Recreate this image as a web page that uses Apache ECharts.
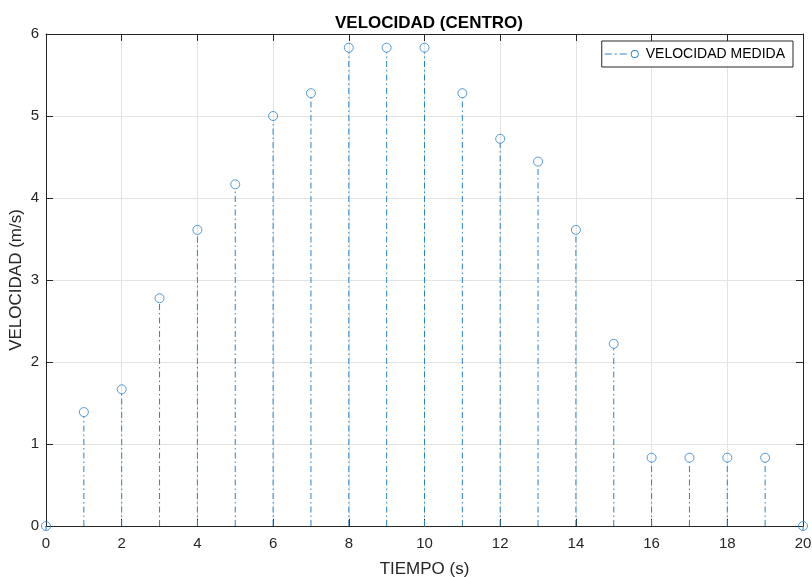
<!DOCTYPE html>
<html>
<head>
<meta charset="utf-8">
<script src="https://cdn.jsdelivr.net/npm/echarts@6/dist/echarts.min.js"></script>
<style>
  html, body { margin: 0; padding: 0; background: #fff; }
  #chart { width: 812px; height: 577px; }
</style>
</head>
<body>
<div id="chart"></div>
<script>
// Tiempo (s) y velocidad medida (m/s) en el centro
const tiempo = [0, 1, 2, 3, 4, 5, 6, 7, 8, 9, 10, 11, 12, 13, 14, 15, 16, 17, 18, 19, 20];
const velocidad = [0, 1.389, 1.667, 2.778, 3.611, 4.167, 5.0, 5.278, 5.833, 5.833, 5.833,
                   5.278, 4.722, 4.444, 3.611, 2.222, 0.833, 0.833, 0.833, 0.833, 0];
const xTicks = [0, 2, 4, 6, 8, 10, 12, 14, 16, 18, 20];
const yTicks = [0, 1, 2, 3, 4, 5, 6];

const puntos = tiempo.map((t, i) => [t, velocidad[i]]);
const azul = '#2a82c9';
const ejeColor = '#262626';
const fuente = 'Liberation Sans, Arial, sans-serif';

// Legend icon: dash-dot line followed by an open circle
const iconoLeyenda = 'path://M0,4.5h7v1h-7z M10,4.5h2v1h-2z M15,4.5h7v1h-7z ' +
  'M34,5A4,4 0 1 1 26,5A4,4 0 1 1 34,5Z M33.1,5A3.1,3.1 0 1 0 26.9,5A3.1,3.1 0 1 0 33.1,5Z';

const chart = echarts.init(document.getElementById('chart'), null, { renderer: 'canvas' });

const ejeX = (pos, conEtiquetas) => ({
  type: 'value', min: xTicks[0], max: xTicks[xTicks.length - 1], interval: 2, position: pos,
  axisLine: { show: true, onZero: false, lineStyle: { color: ejeColor, width: 1 } },
  axisTick: { show: true, inside: true, length: 7, lineStyle: { color: ejeColor } },
  axisLabel: { show: conEtiquetas, color: ejeColor, fontFamily: fuente, fontSize: 15, margin: 10 },
  splitLine: { show: conEtiquetas, lineStyle: { color: '#e3e3e3', width: 1 } },
  name: conEtiquetas ? 'TIEMPO (s)' : '', nameLocation: 'middle', nameGap: 35,
  nameMoveOverlap: false,
  nameTextStyle: { color: ejeColor, fontFamily: fuente, fontSize: 17 }
});
const ejeY = (pos, conEtiquetas) => ({
  type: 'value', min: yTicks[0], max: yTicks[yTicks.length - 1], interval: 1, position: pos,
  axisLine: { show: true, onZero: false, lineStyle: { color: ejeColor, width: 1 } },
  axisTick: { show: true, inside: true, length: 7, lineStyle: { color: ejeColor } },
  axisLabel: { show: conEtiquetas, color: ejeColor, fontFamily: fuente, fontSize: 15, margin: 7 },
  splitLine: { show: conEtiquetas, lineStyle: { color: '#e3e3e3', width: 1 } },
  name: conEtiquetas ? 'VELOCIDAD (m/s)' : '', nameLocation: 'middle', nameGap: 21,
  nameMoveOverlap: false,
  nameTextStyle: { color: ejeColor, fontFamily: fuente, fontSize: 17 }
});

chart.setOption({
  animation: false,
  backgroundColor: '#ffffff',
  title: {
    text: 'VELOCIDAD (CENTRO)', left: 424, top: 10, textAlign: 'center',
    textStyle: { fontFamily: fuente, fontSize: 17, fontWeight: 'bold', color: '#000' }
  },
  grid: { left: 46, right: 9, top: 34, bottom: 51, containLabel: false, outerBoundsMode: 'none' },
  legend: {
    right: 19, top: 41, orient: 'vertical',
    backgroundColor: '#ffffff', borderColor: ejeColor, borderWidth: 1,
    padding: [6, 8, 6, 3], itemWidth: 34, itemHeight: 8, itemGap: 8,
    textStyle: { fontFamily: fuente, fontSize: 14, color: '#000', padding: [0, 0, 0, 2] },
    data: [{ name: 'VELOCIDAD MEDIDA', icon: iconoLeyenda, itemStyle: { color: azul } }]
  },
  xAxis: [ejeX('bottom', true), ejeX('top', false)],
  yAxis: [ejeY('left', true), ejeY('right', false)],
  series: [
    {
      // Stems from zero to each measured value
      name: 'VELOCIDAD MEDIDA', type: 'custom', xAxisIndex: 0, yAxisIndex: 0,
      data: puntos, clip: false, z: 3,
      itemStyle: { color: azul },
      renderItem: (params, api) => {
        const t = api.value(0), v = api.value(1);
        const base = api.coord([t, 0]);
        const tope = api.coord([t, v]);
        return {
          type: 'line',
          shape: { x1: base[0], y1: base[1], x2: tope[0], y2: tope[1] + 4.5 },
          style: { stroke: azul, lineWidth: 1, lineDash: [6, 3, 1.5, 3], fill: null }
        };
      }
    },
    {
      name: 'VELOCIDAD MEDIDA', type: 'scatter', xAxisIndex: 0, yAxisIndex: 0,
      data: puntos, clip: false, z: 4,
      symbol: 'circle', symbolSize: 9,
      itemStyle: { color: 'rgba(0,0,0,0)', borderColor: azul, borderWidth: 1 }
    }
  ]
});
</script>
</body>
</html>
